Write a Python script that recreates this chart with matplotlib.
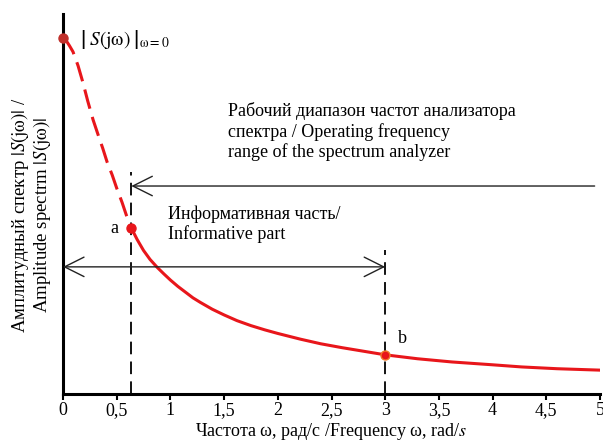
import matplotlib
matplotlib.use("Agg")
import matplotlib.pyplot as plt
import numpy as np

# Curve readings (frequency rad/s, normalized amplitude)
omega_dashed = [0.0, 0.03, 0.06, 0.093, 0.14, 0.187, 0.23, 0.28, 0.33, 0.37, 0.41,
                0.458, 0.50, 0.55, 0.59, 0.636]
amp_dashed = [1.0, 0.992, 0.978, 0.961, 0.922, 0.873, 0.823, 0.770, 0.725, 0.690,
              0.652, 0.615, 0.578, 0.538, 0.502, 0.466]
omega_solid = [0.636, 0.69, 0.75, 0.81, 0.879, 0.94, 1.0, 1.07, 1.14, 1.21, 1.28, 1.39,
               1.5, 1.62, 1.75, 1.88, 2.0, 2.21, 2.4, 2.6, 2.8, 3.0,
               3.3, 3.62, 4.0, 4.27, 4.6, 5.0]
amp_solid = [0.466, 0.434, 0.403, 0.378, 0.355, 0.337, 0.320, 0.302, 0.286, 0.270,
             0.257, 0.238, 0.222, 0.206, 0.192, 0.180, 0.170, 0.154, 0.141, 0.130,
             0.120, 0.110, 0.099, 0.090, 0.082, 0.076, 0.071, 0.067]

point_a = (0.636, 0.466)
point_b = (3.0, 0.110)
point_0 = (0.0, 1.0)

xticks = [0, 0.5, 1, 1.5, 2, 2.5, 3, 3.5, 4, 4.5, 5]
xtick_labels = ["0", "0,5", "1", "1,5", "2", "2,5", "3", "3,5", "4", "4,5", "5"]

upper_arrow_y = 0.584
upper_arrow_x = (0.636, 4.95)
lower_arrow_y = 0.357
lower_arrow_x = (0.0, 3.0)

plt.rcParams['font.family'] = ['Liberation Serif', 'DejaVu Serif']
plt.rcParams['mathtext.fontset'] = 'stix'

fig = plt.figure(figsize=(6.03, 4.41), dpi=100)
ax = fig.add_axes([63/603, 1-394/441, (600-63)/603, (394-14)/441])

red = '#e8161b'
ax.plot(omega_dashed, amp_dashed, color=red, lw=2.2, dashes=(6.5, 2.8), zorder=3,
        solid_joinstyle='round')
ax.plot(omega_solid, amp_solid, color=red, lw=2.2, zorder=3, solid_joinstyle='round')

ax.plot(*point_0, 'o', color='#c0302b', ms=6.5, zorder=4, clip_on=False)
ax.plot(*point_a, 'o', color=red, ms=6.5, zorder=4)
ax.plot(*point_b, 'o', color=red, mec='#f07a28', mew=1.0, ms=6.5, zorder=4)

# dashed verticals
ax.plot([point_a[0], point_a[0]], [0, 0.624], color='black', lw=1.3, dashes=(7, 4), zorder=2)
ax.plot([point_b[0], point_b[0]], [0, 0.404], color='black', lw=1.3, dashes=(7, 4), zorder=2)

# arrows
ax.annotate('', xy=(upper_arrow_x[0], upper_arrow_y), xytext=(upper_arrow_x[1], upper_arrow_y),
            arrowprops=dict(arrowstyle='->,head_length=0.7,head_width=0.35', color='#222222',
                            lw=1.0, shrinkA=0, shrinkB=0, mutation_scale=20))
ax.annotate('', xy=(lower_arrow_x[0], lower_arrow_y), xytext=(lower_arrow_x[1], lower_arrow_y),
            arrowprops=dict(arrowstyle='<->,head_length=0.7,head_width=0.35', color='#222222',
                            lw=1.0, shrinkA=0, shrinkB=0, mutation_scale=20))

fs = 13
ax.text(1.54, 0.82, "Рабочий диапазон частот анализатора\nспектра / Operating frequency\nrange of the spectrum analyzer",
        fontsize=fs, va='top', ha='left', linespacing=1.2)
ax.text(0.98, 0.53, "Информативная часть/\nInformative part", fontsize=fs, va='top', ha='left', linespacing=1.2)
ax.text(0.48, 0.466, "a", fontsize=fs, va='center', ha='center')
ax.text(3.16, 0.155, "b", fontsize=fs, va='center', ha='center')
ax.text(0.155, 0.995, r"$\left|\;S\mathrm{(j\omega)}\;\right|_{\mathrm{\omega=0}}$", fontsize=14,
        va='center', ha='left')

ax.set_xlim(0, 5.0)
ax.set_ylim(0, 1.067)
ax.set_xticks(xticks)
ax.set_xticklabels(xtick_labels, fontsize=fs)
ax.set_yticks([])
for s in ['top', 'right']:
    ax.spines[s].set_visible(False)
for s in ['left', 'bottom']:
    ax.spines[s].set_linewidth(2.2)
ax.tick_params(axis='x', direction='out', length=4, width=1.5, pad=2)

ax.set_xlabel(r"Частота ω, рад/с /Frequency ω, rad/$s$", fontsize=fs, labelpad=1)
ax.set_ylabel("Амплитудный спектр $|S\\mathrm{(j\\omega)}|$ /\nAmplitude spectrm $|S\\mathrm{(j\\omega)}|$",
              fontsize=13.5, linespacing=1.05)
ax.yaxis.set_label_coords(-0.018, 0.47)

fig.savefig("out.png", dpi=100)
